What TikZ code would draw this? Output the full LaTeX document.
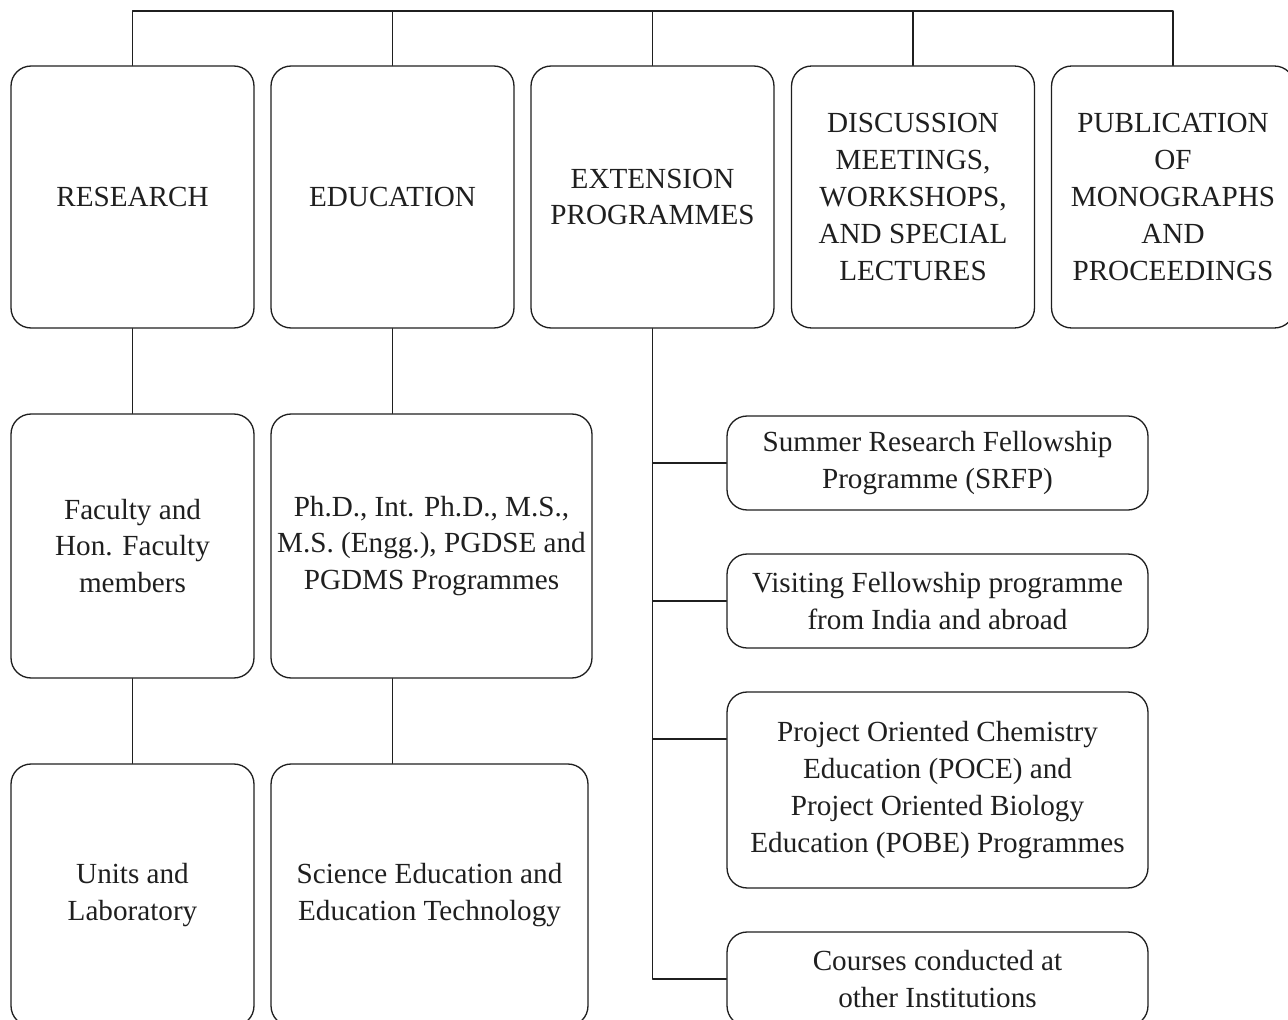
\documentclass[tikz,border=0pt]{standalone}
\usepackage{fontspec}
\setmainfont{Liberation Serif}
\begin{document}
\begin{tikzpicture}[x=0.02cm, y=-0.02cm, line width=0.75pt, line join=round, line cap=round,
		font=\fontsize{16.6}{21}\selectfont, color=black!88,
		box/.style={draw, rounded corners=0.4cm, align=center, inner sep=0pt, minimum width=4.86cm, minimum height=5.24cm},
		smallbox/.style={box, minimum width=8.42cm, minimum height=1.88cm}]
	\useasboundingbox (0,0) rectangle (1288,1020);
	\clip (0,0) rectangle (1288,1020);
	% top row
	\node[box] (research) at (132.5,197) {RESEARCH};
	\node[box] (education) at (392.5,197) {EDUCATION};
	\node[box] (extension) at (652.5,197) {EXTENSION\\PROGRAMMES};
	\node[box] (discussion) at (913,197) {DISCUSSION\\MEETINGS,\\WORKSHOPS,\\AND SPECIAL\\LECTURES};
	\node[box] (publication) at (1173,197) {PUBLICATION\\OF\\MONOGRAPHS\\AND\\PROCEEDINGS};
	% research and education
	\node[box, minimum height=5.28cm] (faculty) at (132.5,546) {Faculty and\\Hon. Faculty\\members};
	\node[box, minimum width=6.42cm, minimum height=5.28cm] (programmes) at (431.5,546) {Ph.D., Int. Ph.D., M.S.,\\M.S. (Engg.), PGDSE and\\PGDMS Programmes};
	\node[box] (units) at (132.5,895) {Units and\\Laboratory};
	\node[box, minimum width=6.34cm] (science) at (429.5,895) {Science Education and\\Education Technology};
	% extension programmes
	\node[smallbox] (srfp) at (937.5,463) {Summer Research Fellowship\\Programme (SRFP)};
	\node[smallbox] (visiting) at (937.5,601) {Visiting Fellowship programme\\from India and abroad};
	\node[smallbox, minimum height=3.92cm] (poce) at (937.5,790) {Project Oriented Chemistry\\Education (POCE) and\\Project Oriented Biology\\Education (POBE) Programmes};
	\node[smallbox] (courses) at (937.5,979) {Courses conducted at\\other Institutions};
	% connectors
	\coordinate (bus) at (653,11);
	\draw (research.north) |- (bus) -| (publication.north);
	\foreach \n in {education,extension,discussion}
		\draw (\n.north) -- (\n.north |- bus);
	\draw (research) -- (faculty) -- (units);
	\draw (education.south) -- (education.south |- programmes.north);
	\draw (education.south |- programmes.south) -- (education.south |- science.north);
	\draw (extension.south) |- (courses.west);
	\foreach \n in {srfp,visiting}
		\draw (\n.west) -- (\n.west -| extension.south);
	\draw ([yshift=1.02cm]poce.west) -- ([yshift=1.02cm]poce.west -| extension.south);
\end{tikzpicture}
\end{document}
